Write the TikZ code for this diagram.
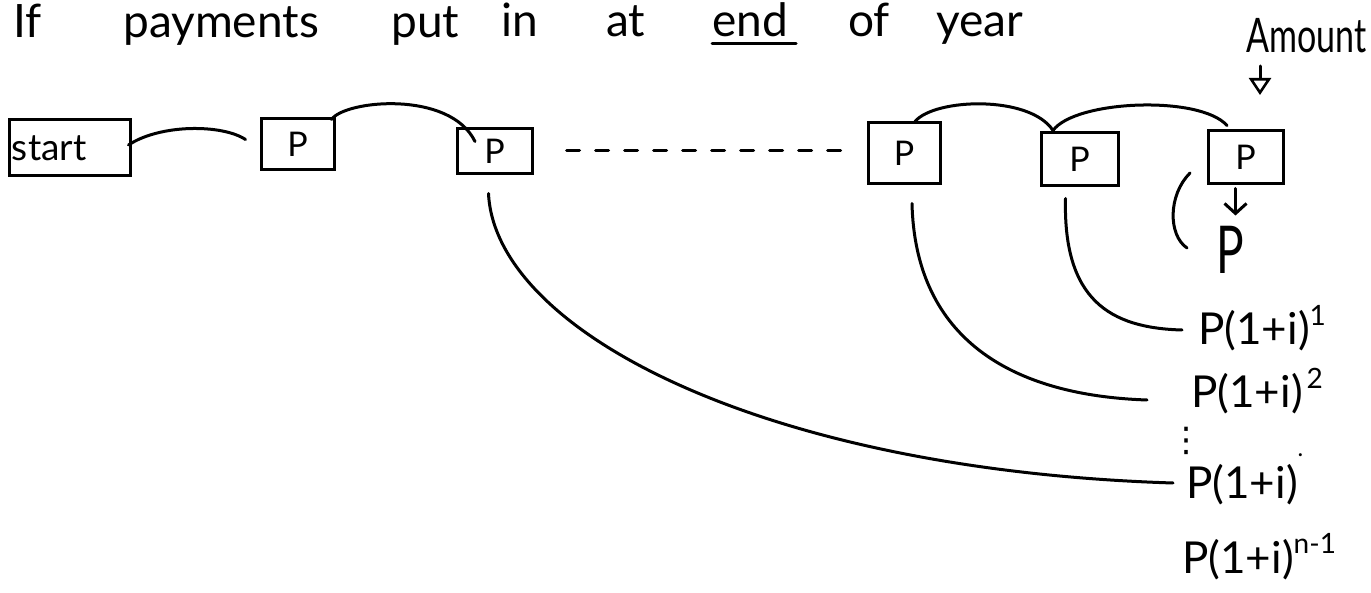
\documentclass[tikz,border=0pt]{standalone}
\usepackage{fontspec}
\setmainfont{Lato}
\newfontfamily\dejavu{DejaVu Sans}
\usepackage{graphicx}
\usetikzlibrary{arrows.meta,calc}
\newcommand\hwsup[1]{\raisebox{0.45em}{\fontsize{28}{28}\selectfont #1}}
\newcommand\ppi{P(1+i)}
\begin{document}
\begin{tikzpicture}[x=1pt,y=-1pt,
  ink/.style={line width=3pt,black,line cap=round},
  pbox/.style={draw,line width=3pt,inner sep=0pt,font=\fontsize{34}{34}\selectfont},
  ttl/.style={anchor=base west,inner sep=0pt,font=\fontsize{46}{46}\selectfont},
  lbl/.style={anchor=base west,inner sep=0pt,font=\fontsize{44}{44}\selectfont},
  dashline/.style={ink,dash pattern=on 13pt off 16pt},
  barb/.style={ink,-{Straight Barb[length=10pt,width=22pt,line width=3pt]}},
  openhead/.style={ink,-{Triangle[open,length=17pt,width=22pt,line width=2.6pt]}}]
\useasboundingbox[fill=white] (0,0) rectangle (1371,593);

% title
\node[ttl] (t1) at (13,38) {If};
\node[ttl] (t2) at (123,38) {payments};
\node[ttl] (t3) at (391,38) {put};
\node[ttl] (t4) at (501,37) {in};
\node[ttl] (t5) at (606,37) {at};
\node[ttl] (t6) at (712,37) {end};
\node[ttl] (t7) at (848,37) {of};
\node[ttl] (t8) at (936,37) {year};
\draw[ink] ([yshift=-7pt]t6.base west) -- ([yshift=-7pt,xshift=8pt]t6.base east);

% amount
\node[ttl,font=\fontsize{34}{34}\selectfont] (amt) at (1246,53) {\scalebox{1}[1.4]{Amount}};
\coordinate (am1) at (1260,66);
\coordinate (am2) at (1260,95);
\draw[openhead] (am1) -- (am2);

% boxes
\node[pbox,minimum width=121pt,minimum height=56pt,text width=115pt,align=left,font=\fontsize{37}{37}\selectfont] (start) at (69.5,148) {start};
\node[pbox,minimum width=73pt,minimum height=51pt] (p1) at (297.5,144.5) {P};
\node[pbox,minimum width=75pt,minimum height=45pt] (p2) at (494.5,151.5) {P};
\node[pbox,minimum width=72pt,minimum height=61pt] (p3) at (904,153.5) {P};
\node[pbox,minimum width=77pt,minimum height=53pt] (p4) at (1079.5,159.5) {P};
\node[pbox,minimum width=75pt,minimum height=53pt] (p5) at (1245.5,157.5) {P};

% top connectors
\draw[ink] ($(start.east)+(-3,-3)$) .. controls (160,124) and (222,124) .. ($(p1.west)+(-14,-5)$);
\draw[ink] ($(p1.north east)+(-4,2)$) .. controls (345,100) and (450,90) .. ($(p2.north)+(-19.5,14)$);
\draw[dashline] ($(p2.east)+(33,-1)$) -- ($(p3.west)+(-12,-3)$);
\draw[ink] ($(p3.north)+(11,0)$) .. controls (935,98) and (1030,95) .. ($(p4.north)+(-26.5,-1)$);
\draw[ink] ($(p4.north)+(-26.5,-1)$) .. controls (1075,100) and (1200,95) .. ($(p5.north)+(-18.5,-4)$);

% amount below last box
\node[anchor=base west,inner sep=0pt,font=\fontsize{40}{40}\selectfont] (pb) at (1216,274) {\scalebox{1.15}[1.65]{P}};
\draw[barb] ($(p5.south)+(-10,3)$) -- ($(p5.south)+(-10,30)$);
\draw[ink] (1190,173) .. controls (1168,195) and (1168,235) .. (1187,248);

% labels
\node[lbl] (e1) at (1198,345) {\ppi\hwsup{1}};
\node[lbl] (e2) at (1191,408) {\ppi\hspace{4pt}\hwsup{2}};
\node[inner sep=0pt,font=\dejavu\fontsize{34}{34}\selectfont] (dots) at (1186,441) {⋮};
\node[lbl] (e3) at (1186,498) {\ppi\raisebox{0.95em}{\fontsize{24}{24}\selectfont .}};
\node[lbl] (e4) at (1182,573) {\ppi\hwsup{n-1}};

% long connectors
\draw[ink] ($(p4.south)+(-14,11)$) .. controls (1063,300) and (1110,328) .. ($(e1.base west)+(-16,-15)$);
\draw[ink] ($(p3.south)+(8,18)$) .. controls (915,330) and (1000,395) .. ($(e2.base west)+(-44,-8)$);
\draw[ink] ($(p2.south)+(-6,18)$) .. controls (495,330) and (760,470) .. ($(e3.base west)+(-13,-15)$);
\end{tikzpicture}
\end{document}
